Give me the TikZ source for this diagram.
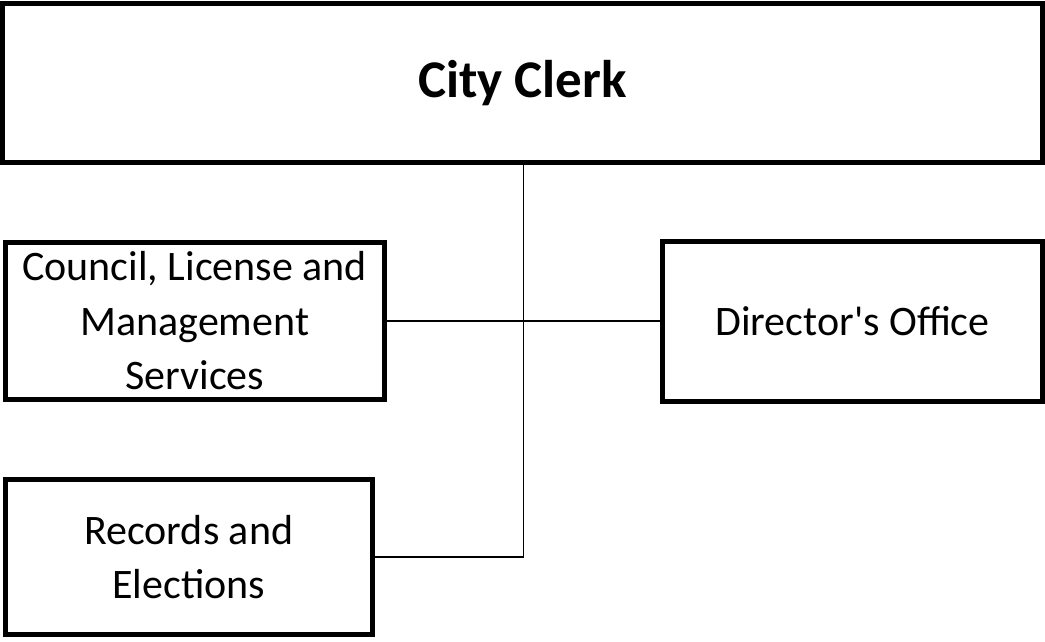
\documentclass[tikz,border=0pt]{standalone}
\usepackage{fontspec}
\setmainfont{Carlito}
\begin{document}
\begin{tikzpicture}[x=1pt,y=-1pt,
  unit/.style={draw=black, line width=5pt, rectangle, align=center, inner sep=0pt,
    font=\fontsize{42}{54.5}\selectfont},
  link/.style={draw=black, line width=1.8pt}]
\useasboundingbox (0,0) rectangle (1045,642);
\node[unit, minimum width=1040pt, minimum height=158pt,
  font=\fontsize{53}{60}\selectfont\bfseries] (clerk) at (522.5,83) {City Clerk};
\node[unit, minimum width=379.5pt, minimum height=157pt] (council) at (194.75,321)
  {Council, License and\\Management\\Services};
\node[unit, minimum width=380pt, minimum height=160pt] (director) at (852.5,321)
  {Director\textquotesingle s Office};
\node[unit, minimum width=367.5pt, minimum height=155pt,
  font=\fontsize{42}{54}\selectfont] (records) at (188.75,557)
  {Records and\\Elections};
\coordinate (trunk) at (523.5,557);
\draw[link] (clerk.south -| trunk) -- (trunk) -- (records.east);
\draw[link] (council.east) -- (director.west);
\end{tikzpicture}
\end{document}
